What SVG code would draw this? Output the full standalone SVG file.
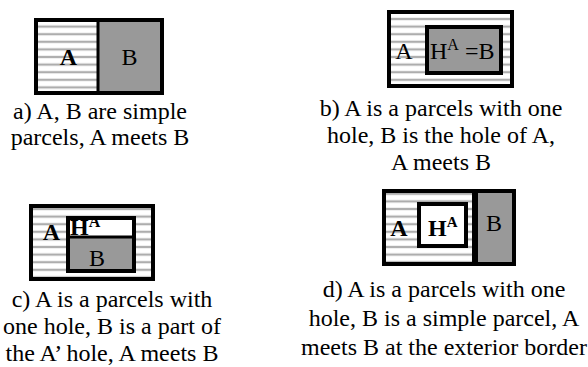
<svg xmlns="http://www.w3.org/2000/svg" width="588" height="367" viewBox="0 0 588 367">
<style>
.cap{font-family:"Liberation Serif","Times New Roman",serif;font-size:24px;fill:#000;text-anchor:middle}
.lbl{font-family:"Liberation Serif","Times New Roman",serif;font-size:24px;fill:#000}
.b{font-weight:bold}
.box{stroke:#000;stroke-width:4}
.gray{fill:#999}
.str{fill:url(#stripes)}
</style>
<defs>
<pattern id="stripes" patternUnits="userSpaceOnUse" x="0" y="0" width="10" height="7.6">
<rect width="10" height="7.6" fill="#fff"/>
<rect y="2.6" width="10" height="2.4" fill="#c4c4c4"/>
<rect y="3.2" width="10" height="1.2" fill="#a0a0a0"/>
</pattern>
</defs>
<rect width="588" height="367" fill="#fff"/>

<g id="panel-a">
<rect x="36" y="20" width="62" height="73" class="str"/>
<rect x="98" y="20" width="64" height="73" class="gray"/>
<rect x="36" y="20" width="126" height="73" fill="none" class="box"/>
<line x1="98" y1="20" x2="98" y2="93" stroke="#000" stroke-width="3"/>
<text x="68.5" y="65" class="lbl b" text-anchor="middle">A</text>
<text x="129.5" y="65" class="lbl" text-anchor="middle">B</text>
<text class="cap"><tspan x="100" y="119">a) A, B are simple</tspan><tspan x="100" y="145">parcels, A meets B</tspan></text>
</g>

<g id="panel-b">
<rect x="389" y="12" width="123" height="74" class="str box"/>
<rect x="427" y="27" width="74" height="46" class="gray box"/>
<text x="404" y="59" class="lbl" text-anchor="middle">A</text>
<text x="430" y="59" class="lbl">H<tspan dy="-9" font-size="16">A</tspan><tspan dy="9"> =B</tspan></text>
<text class="cap"><tspan x="441" y="116">b) A is a parcels with one</tspan><tspan x="441" y="143">hole, B is the hole of A,</tspan><tspan x="441" y="170">A meets B</tspan></text>
</g>

<g id="panel-c">
<rect x="31" y="206" width="122" height="73" class="str box"/>
<rect x="68" y="218" width="66" height="53" fill="#fff"/>
<rect x="68" y="237" width="66" height="34" class="gray"/>
<text x="51.5" y="240" class="lbl b" text-anchor="middle">A</text>
<text x="70" y="235" class="lbl b">H<tspan dy="-8" font-size="16">A</tspan></text>
<text x="97" y="266" class="lbl" text-anchor="middle">B</text>
<rect x="68" y="218" width="66" height="53" fill="none" class="box"/>
<line x1="68" y1="237" x2="134" y2="237" stroke="#000" stroke-width="3"/>
<text class="cap"><tspan x="112" y="307">c) A is a parcels with</tspan><tspan x="112" y="334">one hole, B is a part of</tspan><tspan x="112" y="361">the A’ hole, A meets B</tspan></text>
</g>

<g id="panel-d">
<rect x="384" y="191" width="90" height="73" class="str box"/>
<rect x="476" y="191" width="38" height="73" class="gray box"/>
<rect x="419" y="204" width="47" height="42" fill="#fff" class="box"/>
<text x="399" y="236" class="lbl b" text-anchor="middle">A</text>
<text x="428" y="236" class="lbl b">H<tspan dy="-9" font-size="15">A</tspan></text>
<text x="494" y="231" class="lbl" text-anchor="middle">B</text>
<text class="cap"><tspan x="444" y="297">d) A is a parcels with one</tspan><tspan x="444" y="326">hole, B is a simple parcel, A</tspan><tspan x="444" y="355">meets B at the exterior border</tspan></text>
</g>
</svg>
